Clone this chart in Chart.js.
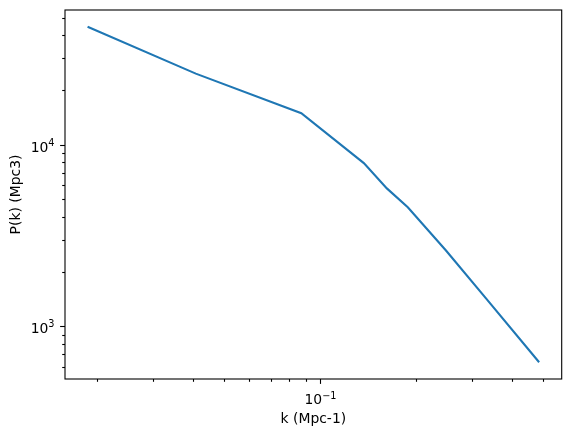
<!DOCTYPE html>
<html>
<head>
<meta charset="utf-8">
<script src="https://cdn.jsdelivr.net/npm/chart.js@4/dist/chart.umd.min.js"></script>
<style>
  html, body { margin: 0; padding: 0; background: #fff; }
  #wrap { width: 570px; height: 437px; }
</style>
</head>
<body>
<div id="wrap"><canvas id="myChart" width="570" height="437"></canvas></div>
<script>
// power spectrum
const kValues = [0.01866, 0.04076, 0.0873, 0.1371, 0.1619, 0.1883, 0.2477, 0.3307, 0.486];
const pkValues = [44670, 24650, 14915, 7924, 5751, 4522, 2625, 1430, 634];

const xTickValues = [0.02, 0.03, 0.04, 0.05, 0.06, 0.07, 0.08, 0.09, 0.1, 0.2, 0.3, 0.4, 0.5, 0.6];
const xTickLabels = { 0.1: ["10", "\u22121"] };
const yTickValues = [600, 700, 800, 900, 1000, 2000, 3000, 4000, 5000, 6000, 7000, 8000, 9000,
                     10000, 20000, 30000, 40000, 50000, 60000];
const yTickLabels = { 1000: ["10", "3"], 10000: ["10", "4"] };

const FONT = "'DejaVu Sans', sans-serif";
const FS = 13.9;

// matplotlib style 5% margin in log space
function logBounds(arr) {
    const lo = Math.log10(Math.min(...arr)), hi = Math.log10(Math.max(...arr));
    const m = (hi - lo) * 0.05;
    return [Math.pow(10, lo - m), Math.pow(10, hi + m)];
}
const [xMin, xMax] = logBounds(kValues);
const [yMin, yMax] = logBounds(pkValues);

function setTicks(values, min, max) {
    return function(scale) {
        scale.ticks = values.filter(v => v >= min && v <= max).map(v => ({ value: v }));
    };
}

// "10" with a raised exponent, like mathtext
function drawPower(ctx, parts, x, baseline, align) {
    ctx.font = FS + "px " + FONT;
    const w1 = ctx.measureText(parts[0]).width;
    ctx.font = (FS * 0.7) + "px " + FONT;
    const w2 = ctx.measureText(parts[1]).width;
    const total = w1 + w2;
    let x0 = align === "center" ? x - total / 2 : x - total;
    ctx.textAlign = "left";
    ctx.textBaseline = "alphabetic";
    ctx.font = FS + "px " + FONT;
    ctx.fillText(parts[0], x0, baseline);
    ctx.font = (FS * 0.7) + "px " + FONT;
    ctx.fillText(parts[1], x0 + w1, baseline - 5.5);
}

// tick marks, tick labels + frame, matplotlib look
const axesPlugin = {
    id: "axesPlugin",
    afterDraw(chart) {
        const ctx = chart.ctx;
        const a = chart.chartArea;
        const xs = chart.scales.x, ys = chart.scales.y;
        ctx.save();
        ctx.strokeStyle = "#000";
        ctx.fillStyle = "#000";
        ctx.lineWidth = 1.1;
        xs.ticks.forEach(t => {
            const px = Math.round(xs.getPixelForValue(t.value)) + 0.5;
            const lab = xTickLabels[t.value];
            const len = lab ? 4.9 : 2.8;
            ctx.beginPath();
            ctx.moveTo(px, a.bottom);
            ctx.lineTo(px, a.bottom + len);
            ctx.stroke();
            if (lab) drawPower(ctx, lab, px, a.bottom + 25, "center");
        });
        ys.ticks.forEach(t => {
            const py = Math.round(ys.getPixelForValue(t.value)) + 0.5;
            const lab = yTickLabels[t.value];
            const len = lab ? 4.9 : 2.8;
            ctx.beginPath();
            ctx.moveTo(a.left, py);
            ctx.lineTo(a.left - len, py);
            ctx.stroke();
            if (lab) drawPower(ctx, lab, a.left - 10.5, py + 6, "right");
        });
        ctx.strokeRect(a.left, a.top, a.right - a.left, a.bottom - a.top);
        ctx.restore();
    }
};

const ctx = document.getElementById("myChart").getContext("2d");
const myChart = new Chart(ctx, {
    type: "scatter",
    data: {
        datasets: [
            {
                data: kValues.map((k, i) => ({ x: k, y: pkValues[i] })),
                showLine: true,
                borderColor: "#1f77b4",
                borderWidth: 2.1,
                pointRadius: 0,
                tension: 0,
            },
        ],
    },
    options: {
        responsive: false,
        animation: false,
        layout: { padding: { left: 0, right: 8.3, top: 10, bottom: 0 } },
        plugins: { legend: { display: false }, tooltip: { enabled: false } },
        scales: {
            x: {
                type: "logarithmic",
                min: xMin,
                max: xMax,
                afterBuildTicks: setTicks(xTickValues, xMin, xMax),
                afterFit(scale) {
                    scale.height = 58;
                    scale.paddingLeft = 0;
                    scale.paddingRight = 0;
                },
                grid: { display: false },
                border: { display: false },
                ticks: {
                    autoSkip: false,
                    maxRotation: 0,
                    callback: () => "",
                },
                title: {
                    display: true,
                    text: "k (Mpc-1)",
                    color: "#000",
                    font: { family: FONT, size: FS },
                    padding: { top: 0, bottom: 9 },
                },
            },
            y: {
                type: "logarithmic",
                min: yMin,
                max: yMax,
                afterBuildTicks: setTicks(yTickValues, yMin, yMax),
                afterFit(scale) {
                    scale.width = 65;
                    scale.paddingTop = 0;
                    scale.paddingBottom = 0;
                },
                grid: { display: false },
                border: { display: false },
                ticks: {
                    autoSkip: false,
                    callback: () => "",
                },
                title: {
                    display: true,
                    text: "P(k) (Mpc3)",
                    color: "#000",
                    font: { family: FONT, size: FS },
                    padding: { top: 8, bottom: 0 },
                },
            },
        },
    },
    plugins: [axesPlugin],
});
</script>
</body>
</html>
